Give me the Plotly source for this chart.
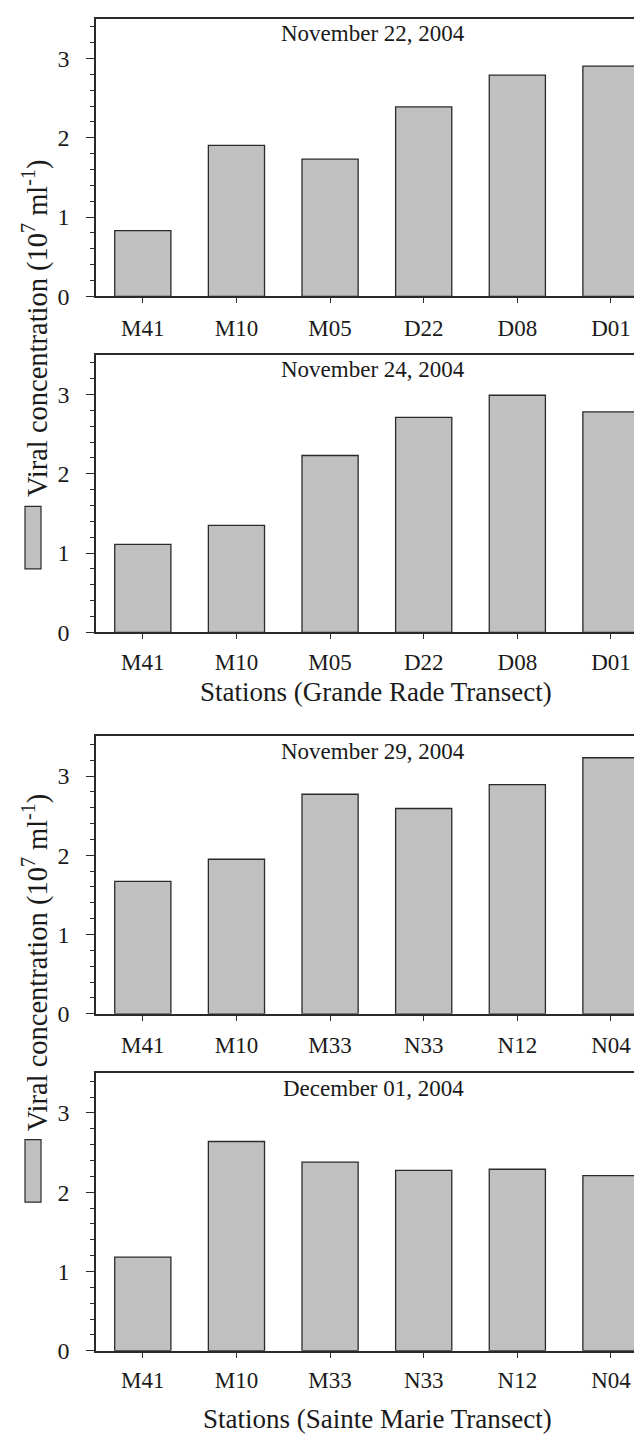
import plotly.graph_objects as go

# ---- data ----
stations_grande = ["M41", "M10", "M05", "D22", "D08", "D01"]
stations_marie = ["M41", "M10", "M33", "N33", "N12", "N04"]
nov22 = [0.83, 1.905, 1.73, 2.39, 2.79, 2.905]
nov24 = [1.11, 1.35, 2.23, 2.71, 2.99, 2.78]
nov29 = [1.67, 1.95, 2.77, 2.59, 2.89, 3.23]
dec01 = [1.18, 2.64, 2.38, 2.275, 2.29, 2.21]
panel_titles = ["November 22, 2004", "November 24, 2004", "November 29, 2004", "December 01, 2004"]
y_ticks = [0, 1, 2, 3]
x_title_top = "Stations (Grande Rade Transect)"
x_title_bottom = "Stations (Sainte Marie Transect)"
y_title = "Viral concentration (10<sup>7</sup> ml<sup>-1</sup>)"

W, H = 642, 1440
FONT = "Liberation Serif, Times New Roman, serif"
TXT = "#1a1a1a"
LINE = "#2a2a2a"

def px_y(y):
    return 1 - y / H

def px_x(x):
    return x / W

# panel pixel extents (top, bottom)
panels = [(11, 291), (350, 630), (735, 1015), (1075, 1355)]
series = [nov22, nov24, nov29, dec01]
cats = [stations_grande, stations_grande, stations_marie, stations_marie]
standoffs = [5, 3, 5, 3]

fig = go.Figure()
layout = dict(
    width=W, height=H,
    margin=dict(l=0, r=0, t=0, b=0),
    paper_bgcolor="white", plot_bgcolor="white",
    showlegend=False,
    font=dict(family=FONT, color=TXT),
)

x_left = 88
for i, ((top, bot), vals, c) in enumerate(zip(panels, series, cats)):
    n = i + 1
    xa = "x" if n == 1 else f"x{n}"
    ya = "y" if n == 1 else f"y{n}"
    fig.add_trace(go.Bar(
        x=list(range(len(vals))), y=vals, width=0.6,
        marker=dict(color="#c0c0c0", line=dict(color=LINE, width=1.3)),
        xaxis=xa, yaxis=ya, hoverinfo="skip",
    ))
    layout["xaxis" if n == 1 else f"xaxis{n}"] = dict(
        domain=[px_x(x_left), 1.0], anchor=ya,
        range=[-0.5, 5.417],
        tickmode="array", tickvals=list(range(len(c))), ticktext=c,
        ticks="outside", ticklen=5, tickwidth=1.2, tickcolor=LINE,
        showline=True, linecolor=LINE, linewidth=1.5, mirror=True,
        showgrid=False, zeroline=False,
        tickfont=dict(family=FONT, size=23, color=TXT),
        ticklabelstandoff=standoffs[i],
    )
    layout["yaxis" if n == 1 else f"yaxis{n}"] = dict(
        domain=[px_y(bot), px_y(top)], anchor=xa,
        range=[0, 3.5],
        tickmode="array", tickvals=y_ticks,
        ticks="outside", ticklen=8, tickwidth=1.2, tickcolor=LINE,
        minor=dict(dtick=0.2, tick0=0, ticks="outside", ticklen=4, tickwidth=1, tickcolor=LINE, showgrid=False),
        showline=True, linecolor=LINE, linewidth=1.5, mirror=False,
        showgrid=False, zeroline=False,
        tickfont=dict(family=FONT, size=24, color=TXT),
        ticklabelstandoff=12,
    )

fig.update_layout(**layout)

annotations = []
for (top, bot), t in zip(panels, panel_titles):
    annotations.append(dict(
        text=t, xref="paper", yref="paper", x=px_x(365), y=px_y(top + 15),
        xanchor="center", yanchor="middle", showarrow=False,
        font=dict(family=FONT, size=23, color=TXT),
    ))
annotations.append(dict(
    text=x_title_top, xref="paper", yref="paper", x=px_x(368), y=px_y(690),
    xanchor="center", yanchor="middle", showarrow=False,
    font=dict(family=FONT, size=27, color=TXT),
))
annotations.append(dict(
    text=x_title_bottom, xref="paper", yref="paper", x=px_x(369), y=px_y(1424),
    xanchor="center", yanchor="middle", showarrow=False,
    font=dict(family=FONT, size=27, color=TXT),
))
for yc in (324, 964):
    annotations.append(dict(
        text=y_title, xref="paper", yref="paper", x=px_x(27), y=px_y(yc),
        xanchor="center", yanchor="middle", showarrow=False, textangle=-90,
        font=dict(family=FONT, size=28.5, color=TXT),
    ))
fig.update_layout(annotations=annotations)

shapes = []
for (y0, y1) in ((503, 566), (1142, 1205)):
    shapes.append(dict(
        type="rect", xref="paper", yref="paper",
        x0=px_x(17), x1=px_x(33), y0=px_y(y1), y1=px_y(y0),
        fillcolor="#c0c0c0", line=dict(color=LINE, width=1.2),
    ))
fig.update_layout(shapes=shapes)

fig.write_html("out.html")
